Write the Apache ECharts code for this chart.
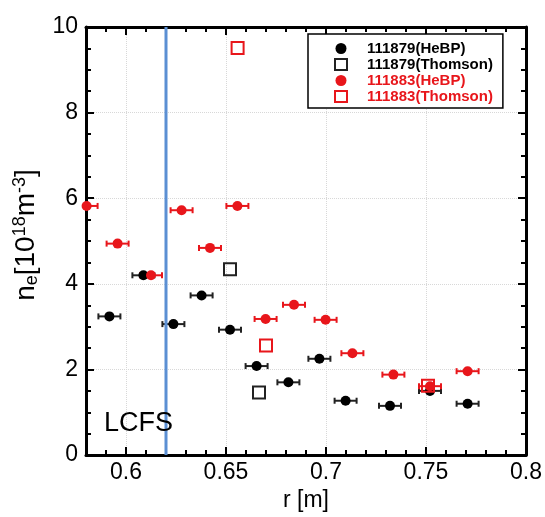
<!DOCTYPE html>
<html>
<head>
<meta charset="utf-8">
<script src="https://cdn.jsdelivr.net/npm/echarts@6/dist/echarts.min.js"></script>
<style>
  html, body { margin: 0; padding: 0; background: #fff; }
  #chart { width: 545px; height: 517px; }
</style>
</head>
<body>
<div id="chart"></div>
<script>
// 111879 HeBP
const rBlackHebp = [0.5917, 0.6087, 0.6237, 0.6378, 0.652, 0.6653, 0.6812, 0.6967, 0.7098, 0.732, 0.752, 0.7708];
const neBlackHebp = [3.24, 4.20, 3.06, 3.73, 2.93, 2.08, 1.70, 2.25, 1.27, 1.15, 1.50, 1.20];
const errBlackHebp = [0.0055, 0.0055, 0.0055, 0.0055, 0.0055, 0.0055, 0.0055, 0.0055, 0.0055, 0.0055, 0.0055, 0.0055];
// 111879 Thomson
const rBlackThomson = [0.652, 0.6665];
const neBlackThomson = [4.34, 1.46];
// 111883 HeBP
const rRedHebp = [0.5803, 0.5958, 0.6125, 0.6278, 0.642, 0.6557, 0.6698, 0.684, 0.6998, 0.7132, 0.7337, 0.752, 0.7708];
const neRedHebp = [5.82, 4.94, 4.20, 5.72, 4.84, 5.82, 3.18, 3.51, 3.16, 2.38, 1.88, 1.61, 1.96];
const errRedHebp = [0.0055, 0.0055, 0.0055, 0.0055, 0.0055, 0.0055, 0.0055, 0.0055, 0.0055, 0.0055, 0.0055, 0.0055, 0.0055];
// 111883 Thomson
const rRedThomson = [0.6558, 0.670, 0.751];
const neRedThomson = [9.51, 2.56, 1.62];

const xTicks = [0.6, 0.65, 0.7, 0.75, 0.8];
const lcfsR = 0.62;

const names = ['111879(HeBP)', '111879(Thomson)', '111883(HeBP)', '111883(Thomson)'];
const BLACK = '#000';
const RED = '#e8161b';

const pts = (xs, ys) => xs.map((x, i) => [x, ys[i]]);
const errPts = (xs, ys, es) => xs.map((x, i) => [x, ys[i], es[i]]);

// horizontal error bars with caps
const errorBar = (color) => (params, api) => {
  const x = api.value(0), y = api.value(1), e = api.value(2);
  const a = api.coord([x - e, y]);
  const b = api.coord([x + e, y]);
  const st = { stroke: color, lineWidth: 2 };
  return {
    type: 'group',
    children: [
      { type: 'line', shape: { x1: a[0], y1: a[1], x2: b[0], y2: b[1] }, style: st },
      { type: 'line', shape: { x1: a[0], y1: a[1] - 3, x2: a[0], y2: a[1] + 3 }, style: st },
      { type: 'line', shape: { x1: b[0], y1: b[1] - 3, x2: b[0], y2: b[1] + 3 }, style: st }
    ]
  };
};

const font = 'Liberation Sans, Arial, sans-serif';
const grid = { show: true, lineStyle: { color: '#d8d8d8', type: 'dotted', width: 1 } };

const majorX = (pos, labels) => ({
  type: 'value', position: pos, min: 0.58, max: 0.8,
  axisLine: { show: true, onZero: false, lineStyle: { color: '#000', width: 3 } },
  axisTick: { show: true, inside: true, length: 8, customValues: xTicks, lineStyle: { width: 2 } },
  axisLabel: labels ? { show: true, customValues: xTicks, margin: 6, fontSize: 23, color: '#000', fontFamily: font } : { show: false },
  splitLine: labels ? grid : { show: false },
  name: labels ? 'r [m]' : '', nameLocation: 'middle', nameGap: 27,
  nameTextStyle: { fontSize: 23, color: '#000', fontFamily: font }
});
const minorX = (pos) => ({
  type: 'value', position: pos, min: 0.58, max: 0.8, interval: 0.01,
  axisLine: { show: false, onZero: false },
  axisTick: { show: true, inside: true, length: 5, lineStyle: { color: '#000', width: 2 } },
  axisLabel: { show: false },
  splitLine: { show: false }
});
const yAx = (pos, labels) => ({
  type: 'value', position: pos, min: 0, max: 10, interval: 2,
  axisLine: { show: true, onZero: false, lineStyle: { color: '#000', width: 3 } },
  axisTick: { show: true, inside: true, length: 8, lineStyle: { width: 2 } },
  minorTick: { show: true, splitNumber: 4, length: 5, lineStyle: { color: '#000', width: 2 } },
  axisLabel: labels ? { show: true, margin: 8, fontSize: 23, color: '#000', fontFamily: font } : { show: false },
  splitLine: labels ? grid : { show: false },
  name: labels ? '{n|n}{sub|e}{b|[10}{sup|18}{b|m}{sup|-3}{b|]}' : '',
  nameLocation: 'middle', nameGap: 31, nameRotate: 90,
  nameTextStyle: {
    color: '#000', fontFamily: font,
    rich: {
      n: { fontSize: 28, lineHeight: 30, fontFamily: font, color: '#000', padding: [0, 0, 0, 12] },
      b: { fontSize: 28, lineHeight: 30, fontFamily: font, color: '#000' },
      sub: { fontSize: 18, lineHeight: 18, verticalAlign: 'bottom', fontFamily: font, color: '#000' },
      sup: { fontSize: 18, lineHeight: 18, verticalAlign: 'top', fontFamily: font, color: '#000' }
    }
  }
});

const chart = echarts.init(document.getElementById('chart'));
chart.setOption({
  animation: false,
  backgroundColor: '#fff',
  grid: { left: 86, right: 19, top: 27, bottom: 58 },
  xAxis: [majorX('bottom', true), majorX('top', false), minorX('bottom'), minorX('top')],
  yAxis: [yAx('left', true), yAx('right', false)],
  legend: {
    left: 308, top: 34, orient: 'vertical',
    padding: [7, 10, 4, 26],
    itemWidth: 12, itemHeight: 11, itemGap: 1,
    backgroundColor: '#fff', borderColor: '#000', borderWidth: 1.5,
    textStyle: { fontFamily: font, fontWeight: 'bold', fontSize: 15, lineHeight: 15, padding: [0, 0, 0, 15] },
    data: [
      { name: names[0], textStyle: { color: BLACK } },
      { name: names[1], textStyle: { color: BLACK } },
      { name: names[2], textStyle: { color: RED } },
      { name: names[3], textStyle: { color: RED } }
    ]
  },
  graphic: [{
    type: 'text', left: 104, top: 410, z: 5,
    style: { text: 'LCFS', fontSize: 27, fontFamily: font, fill: '#000' }
  }],
  series: [
    {
      name: 'LCFS', type: 'line', symbol: 'none', silent: true,
      lineStyle: { color: '#5b8fd3', width: 3 },
      data: [[lcfsR, 0], [lcfsR, 10]]
    },
    {
      name: 'err879', type: 'custom', clip: true,
      renderItem: errorBar('#222'),
      encode: { x: 0, y: 1 },
      data: errPts(rBlackHebp, neBlackHebp, errBlackHebp)
    },
    {
      name: names[0], type: 'scatter', symbol: 'circle', symbolSize: 10,
      itemStyle: { color: BLACK, opacity: 1 },
      data: pts(rBlackHebp, neBlackHebp)
    },
    {
      name: names[1], type: 'scatter', symbol: 'rect', symbolSize: 12,
      itemStyle: { color: 'rgba(255,255,255,0)', borderColor: '#222', borderWidth: 2, opacity: 1 },
      data: pts(rBlackThomson, neBlackThomson)
    },
    {
      name: names[3], type: 'scatter', symbol: 'rect', symbolSize: 12,
      itemStyle: { color: 'rgba(255,255,255,0)', borderColor: RED, borderWidth: 2, opacity: 1 },
      data: pts(rRedThomson, neRedThomson)
    },
    {
      name: 'err883', type: 'custom', clip: true,
      renderItem: errorBar(RED),
      encode: { x: 0, y: 1 },
      data: errPts(rRedHebp, neRedHebp, errRedHebp)
    },
    {
      name: names[2], type: 'scatter', symbol: 'circle', symbolSize: 10,
      itemStyle: { color: RED, opacity: 1 },
      data: pts(rRedHebp, neRedHebp)
    }
  ]
});
</script>
</body>
</html>
